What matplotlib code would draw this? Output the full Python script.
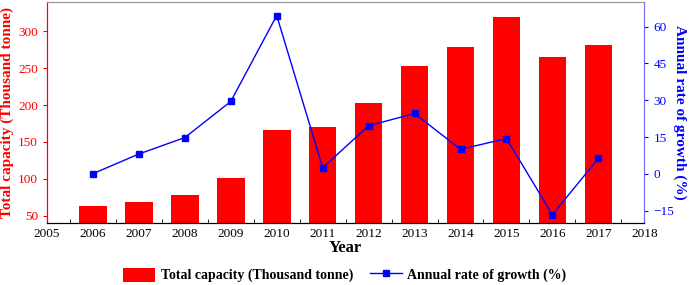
import matplotlib
matplotlib.use("Agg")
import matplotlib.pyplot as plt
from matplotlib.ticker import MultipleLocator

plt.rcParams['font.family'] = ['Liberation Serif', 'DejaVu Serif']

years = [2006, 2007, 2008, 2009, 2010, 2011, 2012, 2013, 2014, 2015, 2016, 2017]
capacity = [63.2, 68.6, 78.5, 101, 166.5, 170.5, 203.3, 253.5, 278.3, 319, 265.7, 282]
growth = [0.1, 8.1, 14.8, 29.5, 64.5, 2.5, 19.6, 24.6, 10, 14.4, -16.6, 6.3]

red = '#ff0000'
blue = '#0000ff'

fig = plt.figure(figsize=(6.9, 2.85), dpi=100)
ax = fig.add_axes([47/690, 1 - 223/285, (644.3 - 47)/690, (223 - 2)/285])
ax2 = ax.twinx()

bars = ax.bar(years, capacity, width=0.6, color=red, label='Total capacity (Thousand tonne)', zorder=2)
line, = ax2.plot(years, growth, color=blue, lw=1, marker='s', markersize=4.5,
                 label='Annual rate of growth (%)')

ax.set_xlim(2005, 2018)
ax.set_ylim(40, 340)
ax2.set_ylim(-20, 70)
ax.xaxis.set_major_locator(MultipleLocator(1))
ax.xaxis.set_minor_locator(MultipleLocator(0.5))
ax.set_yticks([50, 100, 150, 200, 250, 300])
ax2.set_yticks([-15, 0, 15, 30, 45, 60])

ax.tick_params(axis='x', which='both', direction='in', length=3, labelsize=9.5, colors='black')
ax.tick_params(axis='y', direction='out', length=3, labelsize=9.5, colors=red)
ax2.tick_params(axis='y', direction='out', length=3, labelsize=9.5, colors=blue)

for a in (ax, ax2):
    a.spines['top'].set_color('#999999')
    a.spines['left'].set_color(red)
    a.spines['right'].set_color('#7070ff')
    a.spines['bottom'].set_color('black')

ax.set_xlabel('Year', fontsize=12, fontweight='bold', labelpad=0)
ax.set_ylabel('Total capacity (Thousand tonne)', fontsize=11, fontweight='bold', color=red, labelpad=3)
ax2.set_ylabel('Annual rate of growth (%)', fontsize=11, fontweight='bold', color=blue,
               rotation=270, labelpad=9)

fig.legend([bars, line], ['Total capacity (Thousand tonne)', 'Annual rate of growth (%)'],
           loc='center', bbox_to_anchor=(0.5, 1 - 275/285), ncol=2, frameon=False,
           prop={'weight': 'bold', 'size': 10}, handlelength=2.3, handleheight=1.2,
           columnspacing=1.2, handletextpad=0.4)

fig.savefig('out.png', dpi=100)
